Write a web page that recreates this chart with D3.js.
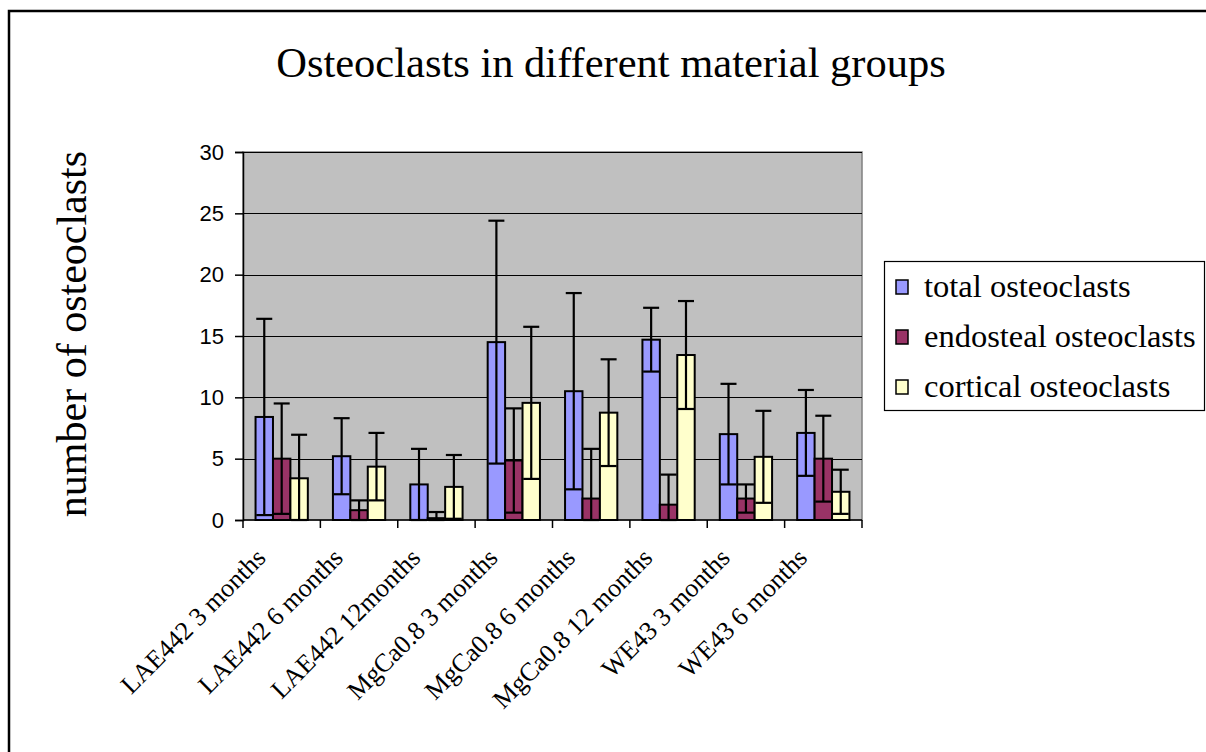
<!DOCTYPE html>
<html>
<head>
<meta charset="utf-8">
<script src="https://cdn.jsdelivr.net/npm/d3@7"></script>
<style>
  body { margin: 0; background: #fff; }
  svg { display: block; }
</style>
</head>
<body>
<div class="svgContainer"></div>
<script>
// values
const categories = ['LAE442 3 months', 'LAE442 6 months', 'LAE442 12months', 'MgCa0.8 3 months',
    'MgCa0.8 6 months', 'MgCa0.8 12 months', 'WE43 3 months', 'WE43 6 months'];
const seriesNames = ['total osteoclasts', 'endosteal osteoclasts', 'cortical osteoclasts'];
const seriesColors = ['#9999ff', '#993366', '#ffffcc'];

const totalValues = [8.4, 5.2, 2.9, 14.5, 10.5, 14.7, 7.0, 7.1];
const totalErrors = [8.0, 3.1, 2.9, 9.9, 8.0, 2.6, 4.1, 3.5];
const endostealValues = [5.0, 0.8, 0.15, 4.85, 1.75, 1.25, 1.75, 5.0];
const endostealErrors = [4.5, 0.8, 0.5, 4.25, 4.05, 2.45, 1.15, 3.5];
const corticalValues = [3.4, 4.35, 2.7, 9.55, 8.75, 13.45, 5.15, 2.3];
const corticalErrors = [3.55, 2.75, 2.6, 6.2, 4.35, 4.4, 3.75, 1.8];
const yTicks = [0, 5, 10, 15, 20, 25, 30];

const values = [totalValues, endostealValues, corticalValues];
const errors = [totalErrors, endostealErrors, corticalErrors];

const width = 1206, height = 752;
const plot = { left: 243, right: 862, top: 152, bottom: 520 };
const serif = '"Liberation Serif", "Times New Roman", serif';
const sans = '"Liberation Sans", Arial, sans-serif';

const svg = d3.select('.svgContainer')
    .append('svg')
    .attr('width', width)
    .attr('height', height)
    .attr('viewBox', `0 0 ${width} ${height}`);

// chart area border (runs off the right and bottom edge)
svg.append('rect')
    .attr('x', 9).attr('y', 11)
    .attr('width', width + 20).attr('height', height + 20)
    .attr('fill', '#fff')
    .attr('stroke', '#000')
    .attr('stroke-width', 2.5);

// scales
const x0 = d3.scaleBand().domain(categories).range([plot.left, plot.right]);
const x1 = d3.scaleBand().domain(seriesNames).range([0, x0.bandwidth()]).paddingOuter(0.72);
const y = d3.scaleLinear().domain([0, 30]).range([plot.bottom, plot.top]);

// plot area
svg.append('rect')
    .attr('x', plot.left).attr('y', plot.top)
    .attr('width', plot.right - plot.left).attr('height', plot.bottom - plot.top)
    .attr('fill', '#c0c0c0')
    .attr('stroke', '#808080')
    .attr('stroke-width', 1.5);

svg.append('g')
    .selectAll('line')
    .data(yTicks.filter(d => d > 0))
    .enter().append('line')
    .attr('x1', plot.left).attr('x2', plot.right)
    .attr('y1', d => Math.round(y(d)) + 0.5).attr('y2', d => Math.round(y(d)) + 0.5)
    .attr('stroke', '#000')
    .attr('stroke-width', 1);

// y axis
const yAxis = svg.append('g')
    .attr('transform', `translate(${plot.left},0)`)
    .call(d3.axisLeft(y).tickValues(yTicks).tickSize(8).tickPadding(11));
yAxis.select('.domain').attr('stroke', '#000').attr('stroke-width', 1.5);
yAxis.selectAll('.tick line').attr('stroke', '#000').attr('stroke-width', 1.5);
yAxis.selectAll('.tick text')
    .attr('font-family', sans)
    .attr('font-size', 22)
    .attr('fill', '#000');

// x axis: ticks between categories
const xAxis = svg.append('g')
    .attr('transform', `translate(0,${plot.bottom})`);
xAxis.append('line')
    .attr('x1', plot.left).attr('x2', plot.right)
    .attr('stroke', '#000').attr('stroke-width', 1.5);
xAxis.selectAll('.tk')
    .data(categories.concat(['end']))
    .enter().append('line')
    .attr('class', 'tk')
    .attr('x1', (d, i) => plot.left + i * x0.step())
    .attr('x2', (d, i) => plot.left + i * x0.step())
    .attr('y1', 0).attr('y2', 8)
    .attr('stroke', '#000').attr('stroke-width', 1.5);
xAxis.selectAll('.lbl')
    .data(categories)
    .enter().append('text')
    .attr('class', 'lbl')
    .attr('transform', d => `translate(${x0(d) + x0.bandwidth() / 2 - 21},${33}) rotate(-45)`)
    .attr('text-anchor', 'end')
    .attr('dy', '0.35em')
    .attr('font-family', serif)
    .attr('font-size', 26)
    .text(d => d);

// bars
const rows = [];
categories.forEach((c, i) => {
    seriesNames.forEach((s, j) => {
        rows.push({ cat: c, series: s, color: seriesColors[j], value: values[j][i], err: errors[j][i] });
    });
});

svg.append('g')
    .selectAll('rect')
    .data(rows)
    .enter().append('rect')
    .attr('x', d => x0(d.cat) + x1(d.series))
    .attr('y', d => y(d.value))
    .attr('width', x1.bandwidth())
    .attr('height', d => y(0) - y(d.value))
    .attr('fill', d => d.color)
    .attr('stroke', '#000')
    .attr('stroke-width', 2);

// error bars (plus and minus, minus clipped at the axis)
const errG = svg.append('g')
    .attr('stroke', '#000')
    .attr('stroke-width', 2.2);
const capHalf = 8;
rows.forEach(d => {
    const cx = x0(d.cat) + x1(d.series) + x1.bandwidth() / 2;
    const hi = d.value + d.err;
    const lo = Math.max(0, d.value - d.err);
    errG.append('line')
        .attr('x1', cx).attr('x2', cx)
        .attr('y1', y(hi)).attr('y2', y(lo));
    errG.append('line')
        .attr('x1', cx - capHalf).attr('x2', cx + capHalf)
        .attr('y1', y(hi)).attr('y2', y(hi));
    errG.append('line')
        .attr('x1', cx - capHalf).attr('x2', cx + capHalf)
        .attr('y1', y(lo)).attr('y2', y(lo));
});

// title
svg.append('text')
    .attr('x', 611)
    .attr('y', 77)
    .attr('text-anchor', 'middle')
    .attr('font-family', serif)
    .attr('font-size', 42.5)
    .text('Osteoclasts in different material groups');

// y axis title
svg.append('text')
    .attr('transform', 'translate(86,334) rotate(-90)')
    .attr('text-anchor', 'middle')
    .attr('font-family', serif)
    .attr('font-size', 42)
    .text('number of osteoclasts');

// legend
const legend = svg.append('g');
legend.append('rect')
    .attr('x', 884.5).attr('y', 261.5)
    .attr('width', 320).attr('height', 149)
    .attr('fill', '#fff')
    .attr('stroke', '#000')
    .attr('stroke-width', 1.2);

const items = legend.selectAll('.item')
    .data(seriesNames)
    .enter().append('g')
    .attr('class', 'item')
    .attr('transform', (d, i) => `translate(0,${287 + i * 50})`);
items.append('rect')
    .attr('x', 896).attr('y', -7)
    .attr('width', 12).attr('height', 14)
    .attr('fill', (d, i) => seriesColors[i])
    .attr('stroke', '#000')
    .attr('stroke-width', 1.5);
items.append('text')
    .attr('x', 924)
    .attr('y', 10)
    .attr('font-family', serif)
    .attr('font-size', 32.5)
    .text(d => d);
</script>
</body>
</html>
